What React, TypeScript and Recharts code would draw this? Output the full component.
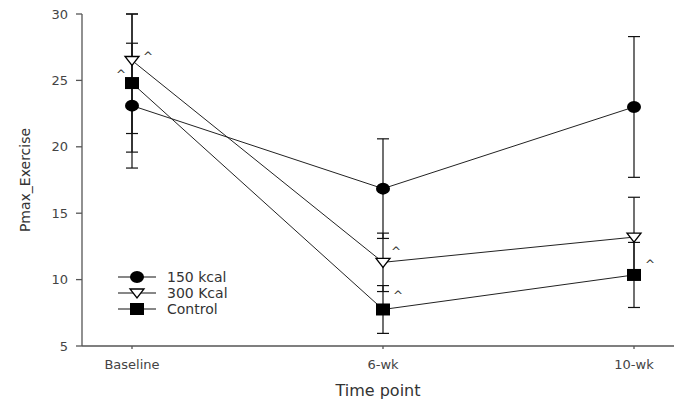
import React from 'react';
import { LineChart, Line, XAxis, YAxis, ErrorBar, Legend, LabelList, Label } from 'recharts';

const categories = ['Baseline', '6-wk', '10-wk'];
const kcal150 = [23.1, 16.85, 23.0];
const kcal150Err = [4.7, 3.75, 5.3];
const kcal300 = [26.5, 11.3, 13.2];
// [below, above] — the Baseline bar is cut off at the top of the axis (30)
const kcal300Err = [[5.5, 3.5], [2.2, 2.2], [3.0, 3.0]];
const control = [24.8, 7.75, 10.35];
const controlErr = [5.2, 1.8, 2.45];
const kcal300Marks = ['^', '^', ''];
const controlMarks = ['^', '^', '^'];
const yTicks = [5, 10, 15, 20, 25, 30];
const seriesNames = ['150 kcal', '300 Kcal', 'Control'];

const data = categories.map((c, i) => ({
  time: c,
  k150: kcal150[i],
  k150e: kcal150Err[i],
  k300: kcal300[i],
  k300e: kcal300Err[i],
  ctl: control[i],
  ctle: controlErr[i],
  m300: kcal300Marks[i],
  mctl: controlMarks[i],
}));

const caretOffsets300 = [[16, -6], [13, -13], [0, 0]];
const caretOffsetsCtl = [[-11, -11], [15, -16], [16, -13]];

const FONT = '"DejaVu Sans", sans-serif';
const TEXT = '#333';

const CircleDot = (p: any) =>
  p.cx == null ? null : <ellipse key={`c${p.index}`} cx={p.cx} cy={p.cy} rx={7} ry={6} fill="#000" />;
const TriDot = (p: any) =>
  p.cx == null ? null : (
    <path
      key={`t${p.index}`}
      d={`M${p.cx - 7},${p.cy - 4} L${p.cx + 7},${p.cy - 4} L${p.cx},${p.cy + 5} Z`}
      fill="#fff"
      stroke="#000"
      strokeWidth={1.3}
    />
  );
const SquareDot = (p: any) =>
  p.cx == null ? null : <rect key={`s${p.index}`} x={p.cx - 7} y={p.cy - 6} width={14} height={12} fill="#000" />;

const caret = (offsets: number[][]) => (p: any) => {
  if (!p.value) return null;
  const [dx, dy] = offsets[p.index] || [0, 0];
  return (
    <text
      key={`k${p.index}`}
      x={p.x + dx}
      y={p.y + dy + 7}
      textAnchor="middle"
      fontSize={12}
      fontFamily={FONT}
      fill={TEXT}
    >
      {p.value}
    </text>
  );
};

const LegendBox = () => {
  const rows = [0, 1, 2];
  return (
    <svg width={140} height={56}>
      {rows.map((i) => {
        const y = 11 + i * 16;
        const cx = 27;
        return (
          <g key={i}>
            <line x1={8} x2={46} y1={y} y2={y} stroke="#111" strokeWidth={1.2} />
            {i === 0 && <ellipse cx={cx} cy={y} rx={7} ry={6} fill="#000" />}
            {i === 1 && (
              <path d={`M${cx - 7},${y - 4} L${cx + 7},${y - 4} L${cx},${y + 5} Z`} fill="#fff" stroke="#000" strokeWidth={1.3} />
            )}
            {i === 2 && <rect x={cx - 7} y={y - 6} width={14} height={12} fill="#000" />}
            <text x={57} y={y + 5} fontSize={14} fontFamily={FONT} fill={TEXT}>
              {seriesNames[i]}
            </text>
          </g>
        );
      })}
    </svg>
  );
};

const YLabel = (p: any) => {
  const vb = p.viewBox || {};
  const cy = (vb.y || 0) + (vb.height || 0) / 2;
  return (
    <text x={30} y={cy} transform={`rotate(-90, 30, ${cy})`} textAnchor="middle" fontSize={14} fontFamily={FONT} fill={TEXT}>
      Pmax_Exercise
    </text>
  );
};

const XLabel = (p: any) => {
  const vb = p.viewBox || {};
  const cx = (vb.x || 0) + (vb.width || 0) / 2;
  return (
    <text x={cx} y={396} textAnchor="middle" fontSize={16} fontFamily={FONT} fill={TEXT}>
      Time point
    </text>
  );
};

export default function App() {
  return (
    <div style={{ position: 'absolute', left: 0, top: 0, background: '#fff' }}>
      <LineChart width={677} height={404} data={data} margin={{ top: 14, right: 3, bottom: 18, left: 22 }}>
        <XAxis
          dataKey="time"
          height={40}
          padding={{ left: 50, right: 40 }}
          tickSize={3}
          tickMargin={11}
          stroke="#555"
          strokeWidth={1.3}
          tick={{ fontSize: 13, fontFamily: FONT, fill: '#444' }}
        >
          <Label content={<XLabel />} />
        </XAxis>
        <YAxis
          width={60}
          domain={[5, 30]}
          ticks={yTicks}
          allowDataOverflow
          tickSize={6}
          tickMargin={8}
          stroke="#555"
          strokeWidth={1.3}
          tick={{ fontSize: 13, fontFamily: FONT, fill: '#444' }}
        >
          <Label content={<YLabel />} />
        </YAxis>
        <Legend
          layout="vertical"
          align="center"
          verticalAlign="middle"
          content={() => <LegendBox />}
          wrapperStyle={{ left: 110, top: 266, width: 140, height: 56 }}
        />
        <Line dataKey="k150" stroke="#222" strokeWidth={1} dot={CircleDot} activeDot={false} isAnimationActive={false}>
          <ErrorBar dataKey="k150e" width={6} stroke="#111" strokeWidth={1.2} isAnimationActive={false} />
        </Line>
        <Line dataKey="k300" stroke="#222" strokeWidth={1} dot={TriDot} activeDot={false} isAnimationActive={false}>
          <ErrorBar dataKey="k300e" width={6} stroke="#111" strokeWidth={1.2} isAnimationActive={false} />
          <LabelList dataKey="m300" content={caret(caretOffsets300)} />
        </Line>
        <Line dataKey="ctl" stroke="#222" strokeWidth={1} dot={SquareDot} activeDot={false} isAnimationActive={false}>
          <ErrorBar dataKey="ctle" width={6} stroke="#111" strokeWidth={1.2} isAnimationActive={false} />
          <LabelList dataKey="mctl" content={caret(caretOffsetsCtl)} />
        </Line>
      </LineChart>
    </div>
  );
}
